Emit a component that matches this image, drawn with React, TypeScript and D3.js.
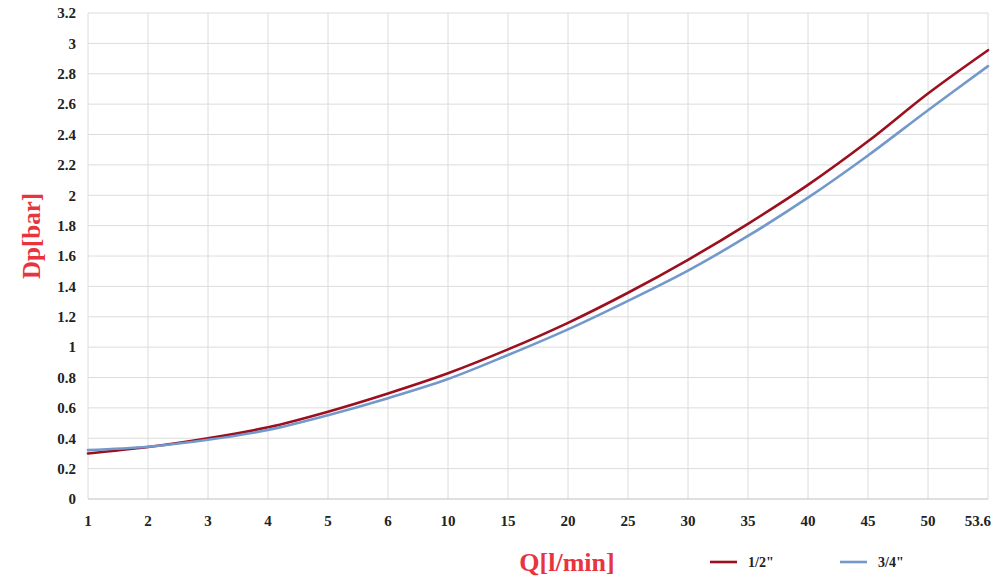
import { useEffect } from 'react'
import { curveCatmullRom, line as d3Line, scaleLinear, scalePoint } from 'd3'

const WIDTH = 1000
const HEIGHT = 579
const MARGIN = { top: 13, right: 12, bottom: 80, left: 88 }
const INNER_WIDTH = WIDTH - MARGIN.left - MARGIN.right
const INNER_HEIGHT = HEIGHT - MARGIN.top - MARGIN.bottom

const flows = ['1', '2', '3', '4', '5', '6', '10', '15', '20', '25', '30', '35', '40', '45', '50', '53.6']
const halfInch = [0.3, 0.342, 0.4, 0.472, 0.575, 0.695, 0.828, 0.985, 1.16, 1.358, 1.575, 1.812, 2.068, 2.355, 2.67, 2.955]
const threeQuarterInch = [0.322, 0.344, 0.39, 0.455, 0.552, 0.664, 0.79, 0.948, 1.117, 1.305, 1.504, 1.732, 1.984, 2.262, 2.56, 2.85]
const yTicks = [0, 0.2, 0.4, 0.6, 0.8, 1, 1.2, 1.4, 1.6, 1.8, 2, 2.2, 2.4, 2.6, 2.8, 3, 3.2]

const series = [
  { key: '1/2"', color: '#9b0f1e', values: halfInch },
  { key: '3/4"', color: '#7399cb', values: threeQuarterInch },
]

const FONT = '"Liberation Serif", "Times New Roman", serif'
const TITLE_RED = '#e8343f'

export default function App() {
  useEffect(() => {
    document.body.style.margin = '0'
  }, [])

  const x = scalePoint<string>().domain(flows).range([0, INNER_WIDTH])
  const y = scaleLinear().domain([0, 3.2]).range([INNER_HEIGHT, 0])

  const line = d3Line<number>()
    .x((_, i) => x(flows[i]) ?? 0)
    .y((d) => y(d))
    .curve(curveCatmullRom.alpha(0.5))

  const last = flows[flows.length - 1]

  return (
    <svg width={WIDTH} height={HEIGHT} viewBox={`0 0 ${WIDTH} ${HEIGHT}`} style={{ display: 'block', background: '#fff' }}>
      <g transform={`translate(${MARGIN.left}, ${MARGIN.top})`}>
        {yTicks.map((t) => (
          <line key={`h${t}`} x1={0} x2={INNER_WIDTH} y1={y(t)} y2={y(t)} stroke="#dcdcdc" strokeWidth={1} />
        ))}
        {flows.map((f) => (
          <line key={`v${f}`} x1={x(f)} x2={x(f)} y1={0} y2={INNER_HEIGHT} stroke="#dcdcdc" strokeWidth={1} />
        ))}
        <line x1={0} x2={INNER_WIDTH} y1={INNER_HEIGHT} y2={INNER_HEIGHT} stroke="#cfcfcf" strokeWidth={1.2} />

        {series.map((s) => (
          <path key={s.key} d={line(s.values) ?? undefined} fill="none" stroke={s.color} strokeWidth={2.6} strokeLinecap="round" />
        ))}

        {yTicks.map((t) => (
          <text
            key={`yl${t}`}
            x={-12}
            y={y(t)}
            dy="0.35em"
            textAnchor="end"
            fontFamily={FONT}
            fontWeight="bold"
            fontSize={15}
            fill="#222"
          >
            {t}
          </text>
        ))}
        {flows.map((f) => (
          <text
            key={`xl${f}`}
            x={f === last ? (x(f) ?? 0) + 3 : x(f)}
            y={INNER_HEIGHT + 27}
            textAnchor={f === last ? 'end' : 'middle'}
            fontFamily={FONT}
            fontWeight="bold"
            fontSize={15}
            fill="#222"
          >
            {f}
          </text>
        ))}
      </g>

      <text
        transform="translate(40, 236) rotate(-90)"
        textAnchor="middle"
        fontFamily={FONT}
        fontWeight="bold"
        fontSize={25}
        fill={TITLE_RED}
      >
        Dp[bar]
      </text>
      <text x={567} y={571} textAnchor="middle" fontFamily={FONT} fontWeight="bold" fontSize={26} fill={TITLE_RED}>
        Q[l/min]
      </text>

      {series.map((s, i) => {
        const lx = 710 + i * 130
        return (
          <g key={`lg${s.key}`}>
            <line x1={lx} x2={lx + 27} y1={562} y2={562} stroke={s.color} strokeWidth={2.6} />
            <text x={lx + 38} y={567} fontFamily={FONT} fontWeight="bold" fontSize={14} fill="#222">
              {s.key}
            </text>
          </g>
        )
      })}
    </svg>
  )
}
